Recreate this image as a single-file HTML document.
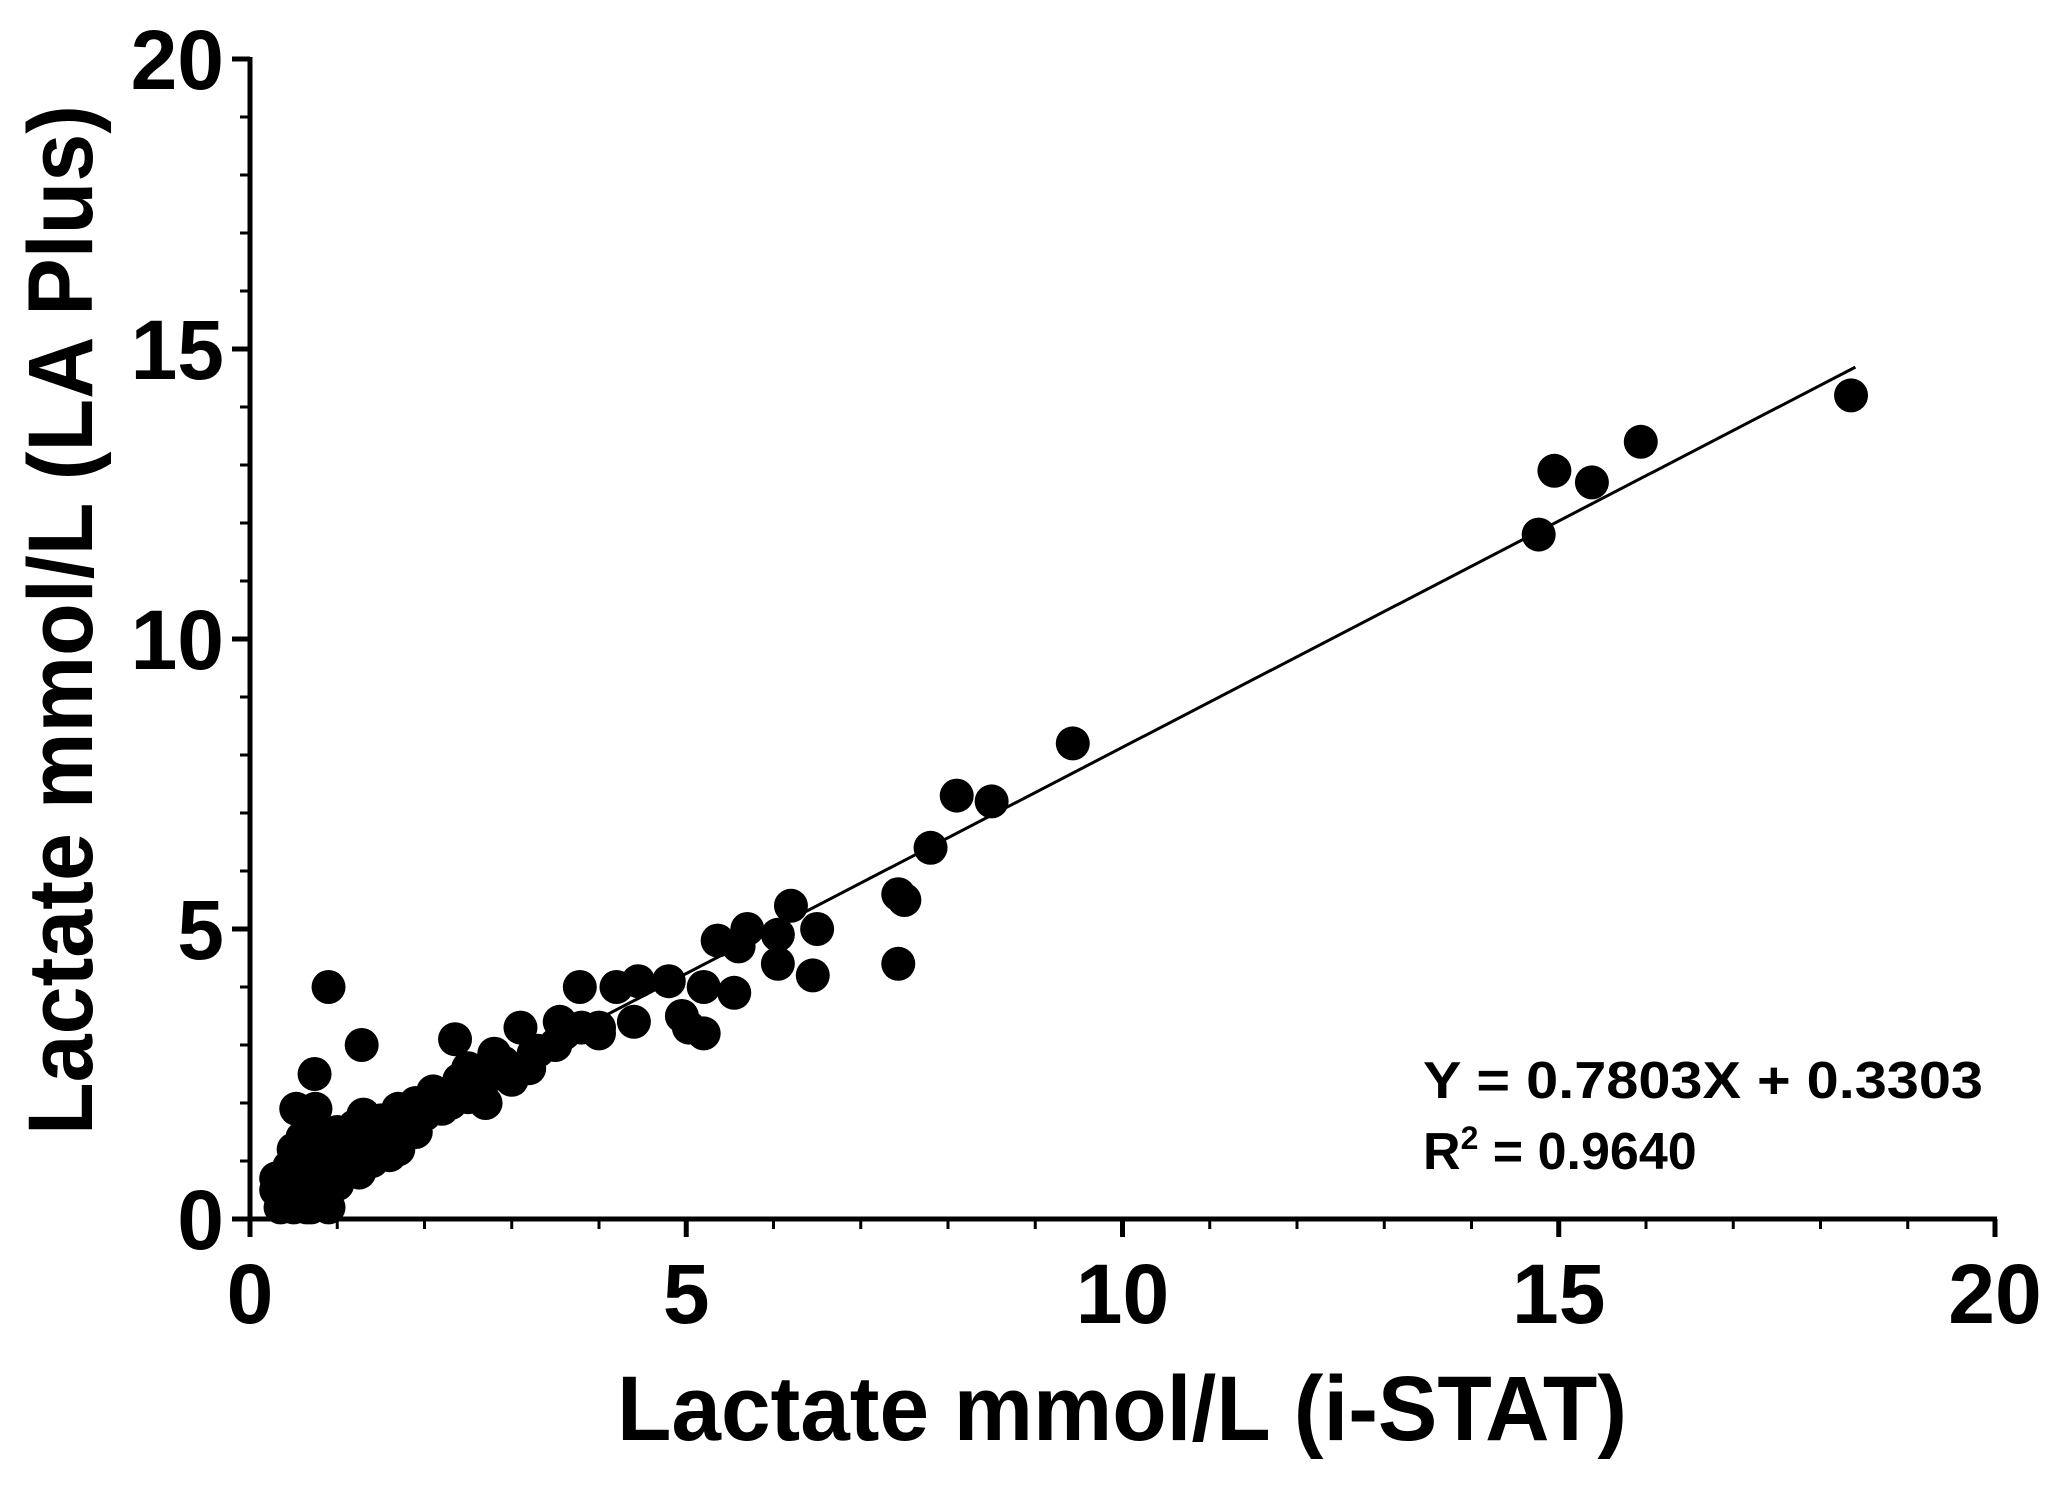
<!DOCTYPE html>
<html><head><meta charset="utf-8"><style>
html,body{margin:0;padding:0;background:#fff;}
svg{display:block;font-family:"Liberation Sans",Arial,sans-serif;font-weight:bold;}
</style></head><body>
<svg id="chart" width="2066" height="1488" viewBox="0 0 2066 1488" xmlns="http://www.w3.org/2000/svg">
<g id="axes"></g>
<g id="marks"></g>
<text x="0" y="0" transform="translate(92,620) rotate(-90)" text-anchor="middle" font-size="92" textLength="1030" lengthAdjust="spacingAndGlyphs">Lactate mmol/L (LA Plus)</text>
<text x="1122" y="1440" text-anchor="middle" font-size="92" textLength="1010" lengthAdjust="spacingAndGlyphs">Lactate mmol/L (i-STAT)</text>
<text x="1423" y="1098" font-size="52" textLength="560" lengthAdjust="spacingAndGlyphs">Y = 0.7803X + 0.3303</text>
<text x="1423" y="1169" font-size="52">R<tspan font-size="32" dy="-20">2</tspan><tspan dy="20"> = 0.9640</tspan></text>
</svg>
<script>
const xTicks = [0,5,10,15,20];
const yTicks = [0,5,10,15,20];
const xVals = [18.35,15.94,15.38,14.95,14.77,9.43,8.1,8.5,7.8,7.43,7.5,7.43,6.2,6.5,6.45,6.05,6.05,5.7,5.36,5.6,5.55,5.2,5.2,5.03,4.95,4.8,4.45,4.2,4.4,4.0,3.78,3.55,3.25,3.1,2.8,2.35,1.28,0.9,0.74,0.75,0.53,
0.35,0.4,0.4,0.45,0.5,0.5,0.55,0.6,0.6,0.65,0.7,0.75,0.8,0.85,0.9,0.9,0.95,1.0,1.0,1.1,1.15,1.2,1.3,1.3,1.4,1.5,1.5,1.6,1.7,1.7,1.8,1.9,1.9,2.0,2.1,2.2,2.3,2.4,2.5,2.5,2.6,2.7,2.8,2.9,3.0,3.2,3.3,3.5,3.6,3.8,4.0,1.6,0.5,0.7,
0.3,0.3,0.35,0.45,0.55,0.65,0.7,0.8,1.0,1.1,1.25,1.4,0.85,1.2,2.0,2.2,2.4];
const yVals = [14.2,13.4,12.7,12.9,11.8,8.2,7.3,7.2,6.4,5.6,5.5,4.4,5.4,5.0,4.2,4.4,4.9,5.0,4.8,4.7,3.9,4.0,3.2,3.3,3.5,4.1,4.1,4.0,3.4,3.3,4.0,3.4,2.85,3.3,2.85,3.1,3.0,4.0,2.5,1.9,1.9,
0.4,0.6,0.3,0.9,0.5,1.2,0.8,1.4,0.4,1.0,0.6,1.5,1.1,0.5,0.2,0.8,1.2,1.5,0.9,1.3,1.0,1.6,1.2,1.8,1.4,1.1,1.7,1.5,1.9,1.2,1.6,2.0,1.5,1.8,2.2,1.9,2.0,2.4,2.1,2.6,2.3,2.0,2.5,2.7,2.4,2.6,2.9,3.0,3.2,3.3,3.2,1.1,0.2,0.2,
0.5,0.7,0.2,0.3,0.3,0.2,1.3,0.7,0.6,0.9,0.8,1.0,1.0,1.4,2.0,2.1,2.2];
const slope = 0.7803, intercept = 0.3303, fitRange = [0.25, 18.4];

const X0=250, X1=1995, Y0=1219, Y1=59;
const sx = v => X0 + (v/20)*(X1-X0);
const sy = v => Y0 - (v/20)*(Y0-Y1);
const NS='http://www.w3.org/2000/svg';
const axes=document.getElementById('axes'), marks=document.getElementById('marks');
function mk(tag, attrs, parent){const e=document.createElementNS(NS,tag);for(const k in attrs)e.setAttribute(k,attrs[k]);parent.appendChild(e);return e;}

let ax=mk('line',{x1:X0-12,y1:Y0,x2:X1+2,y2:Y0,stroke:'#000','stroke-width':5},axes);


let ay=mk('line',{x1:X0,y1:Y1-2,x2:X0,y2:Y0+2,stroke:'#000','stroke-width':5},axes);


for(let i=0;i<=20;i++){
  const major = i%5===0, len = major?18:10;
  let t=mk('line',{x1:sx(i),y1:Y0,x2:sx(i),y2:Y0+len,stroke:'#000','stroke-width':major?5:3},axes);
  
  
  let u=mk('line',{x1:X0-len,y1:sy(i),x2:X0,y2:sy(i),stroke:'#000','stroke-width':major?5:3},axes);
  
  
}
xTicks.forEach(v=>{
  let t=mk('text',{x:sx(v),y:Y0+104,'text-anchor':'middle','font-size':84},axes);
  t.textContent=v;
  
  
});
yTicks.forEach(v=>{
  let t=mk('text',{x:X0-26,y:sy(v)+30,'text-anchor':'end','font-size':84},axes);
  t.textContent=v;
  
  
});
let fit=mk('line',{x1:sx(fitRange[0]),y1:sy(slope*fitRange[0]+intercept),x2:sx(fitRange[1]),y2:sy(slope*fitRange[1]+intercept),stroke:'#000','stroke-width':3},marks);


xVals.forEach((x,i)=>{
  let c=mk('circle',{cx:sx(x),cy:sy(yVals[i]),r:17,fill:'#000'},marks);
  
  
});
</script>
</body></html>
